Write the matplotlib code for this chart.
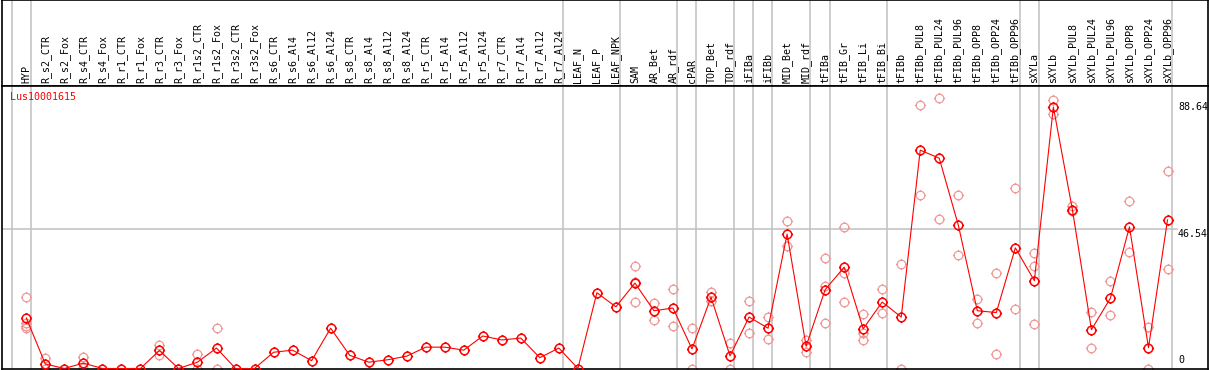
import matplotlib
matplotlib.use('Agg')
import matplotlib.pyplot as plt
from matplotlib.path import Path
from matplotlib.transforms import blended_transform_factory

# Sample names (column headers)
samples = ['HYP', 'R_s2_CTR', 'R_s2_Fox', 'R_s4_CTR', 'R_s4_Fox', 'R_r1_CTR', 'R_r1_Fox',
           'R_r3_CTR', 'R_r3_Fox', 'R_r1s2_CTR', 'R_r1s2_Fox', 'R_r3s2_CTR', 'R_r3s2_Fox',
           'R_s6_CTR', 'R_s6_Al4', 'R_s6_Al12', 'R_s6_Al24', 'R_s8_CTR', 'R_s8_Al4',
           'R_s8_Al12', 'R_s8_Al24', 'R_r5_CTR', 'R_r5_Al4', 'R_r5_Al12', 'R_r5_Al24',
           'R_r7_CTR', 'R_r7_Al4', 'R_r7_Al12', 'R_r7_Al24', 'LEAF_N', 'LEAF_P', 'LEAF_NPK',
           'SAM', 'AR_Bet', 'AR_rdf', 'cPAR', 'TOP_Bet', 'TOP_rdf', 'iFIBa', 'iFIBb',
           'MID_Bet', 'MID_rdf', 'tFIBa', 'tFIB_Gr', 'tFIB_Li', 'tFIB_Bi', 'tFIBb',
           'tFIBb_PUL8', 'tFIBb_PUL24', 'tFIBb_PUL96', 'tFIBb_OPP8', 'tFIBb_OPP24',
           'tFIBb_OPP96', 'sXYLa', 'sXYLb', 'sXYLb_PUL8', 'sXYLb_PUL24', 'sXYLb_PUL96',
           'sXYLb_OPP8', 'sXYLb_OPP24', 'sXYLb_OPP96']

# Mean expression per sample
means = [16.8, 1.5, 0, 1.8, 0, 0, 0, 6.0, 0, 2.1, 6.8, 0, 0,
         5.4, 6.1, 2.6, 13.4, 4.4, 2.1, 2.9, 4.1, 7.1, 7.1, 6.1, 10.8,
         9.5, 10.1, 3.6, 6.8, 0, 25.2, 20.5,
         28.4, 19.2, 20.1, 6.5, 23.7, 4.2, 17.1, 13.4,
         44.7, 7.4, 26.2, 33.7, 13.2, 22.1, 17.1,
         72.6, 69.9, 47.7, 19.2, 18.6, 40.1, 29.2, 86.9,
         52.8, 12.9, 23.4, 47.1, 6.9, 49.4]

# Individual replicate values per sample
replicates = [[23.7, 15.0, 14.2, 13.6], [3.5, 0], [], [3.8, 0.3], [], [], [],
              [7.8, 4.5], [], [4.7, 0], [13.6, 0], [], [],
              [], [], [], [], [], [], [], [], [], [], [], [],
              [], [], [], [], [], [], [],
              [34.1, 28.9, 22.1], [21.7, 16.2], [26.4, 14.1], [13.5, 0], [25.4, 22.6],
              [8.4, 0], [22.5, 11.8], [17.1, 9.9],
              [49.1, 40.6], [9.5, 5.4], [36.7, 27.3, 15.1], [47.1, 31.9, 22.2],
              [18.2, 11.8, 9.4], [26.4, 18.4], [34.8, 0],
              [87.7, 57.6], [89.9, 49.7], [57.6, 37.8], [23.1, 15.2], [31.8, 4.8],
              [60.1, 19.8], [38.4, 34.1, 14.8], [89.3, 84.7],
              [53.9, 52.2], [18.8, 6.8], [29.2, 17.9], [55.8, 38.7], [13.8, 0], [65.6, 33.1]]

# separators drawn after these sample indices
group_ends = [-1, 0, 28, 31, 34, 35, 37, 38, 39, 41, 42, 45, 52, 53, 60]
y_ticks = [88.64, 46.54]
gene = 'Lus10001615'

W, H = 1209, 370
fig = plt.figure(figsize=(W / 100, H / 100), dpi=100)
font = 'DejaVu Sans Mono'
fs = 7.2

# pixel geometry
left_px, right_px = 2, 1208
head_px = 85.7
bottom_px = 368.5
x0_px, dx_px = 26.3, 19.02
y_scale = 3.008

xlim = ((left_px - x0_px) / dx_px, (right_px - x0_px) / dx_px)
ylim = (0, (bottom_px - head_px) / y_scale)

head = fig.add_axes([left_px / W, 1 - head_px / H, (right_px - left_px) / W, head_px / H])
ax = fig.add_axes([left_px / W, (H - bottom_px) / H, (right_px - left_px) / W,
                   (bottom_px - head_px) / H])

for a in (head, ax):
    a.set_xlim(*xlim)
    a.set_xticks([])
    a.set_yticks([])
    for s in a.spines.values():
        s.set_color('black')
        s.set_linewidth(1.2)
    for g in group_ends:
        a.axvline(g + 0.23, color='#c0c0c0', linewidth=1.1, zorder=0)
ax.set_ylim(*ylim)

# column headers
for i, name in enumerate(samples):
    head.text(i, 0.03, name, rotation=90, ha='center', va='bottom',
              fontsize=fs, family=font, color='black')

# horizontal grid line and right labels
grid_right = (1177 - left_px) / (right_px - left_px)
ax.axhline(y_ticks[1], xmin=0, xmax=grid_right, color='#c0c0c0', linewidth=1.1, zorder=0)
lab_tr = blended_transform_factory(ax.transAxes, ax.transData)
lab_x = (1178 - left_px) / (right_px - left_px)
for v in y_ticks:
    ax.text(lab_x, v, f'{v:.2f}', transform=lab_tr, ha='left', va='top',
            fontsize=fs, family=font)
ax.text(lab_x, 1.2, '0', transform=lab_tr, ha='left', va='bottom', fontsize=fs, family=font)

ax.text(8 / (right_px - left_px), 1 - 11.5 / (bottom_px - head_px), gene,
        transform=ax.transAxes, ha='left', va='center', color='red',
        fontsize=fs, family=font)

# circle marker with small ticks
t = 1.3
tick_paths = [Path([[0, 1], [0, t]]), Path([[0, -1], [0, -t]]),
              Path([[1, 0], [t, 0]]), Path([[-1, 0], [-t, 0]])]
marker = Path.make_compound_path(Path.unit_circle(), *tick_paths)
msize = 8.0

rx, ry = [], []
for i, reps in enumerate(replicates):
    for v in reps:
        rx.append(i)
        ry.append(v)
ax.plot(rx, ry, linestyle='none', marker=marker, markersize=msize,
        markerfacecolor='none', markeredgecolor='#f09898', markeredgewidth=0.9,
        clip_on=False, zorder=2)

ax.plot(range(len(samples)), means, color='red', linewidth=0.8,
        marker=marker, markersize=msize, markerfacecolor='none',
        markeredgecolor='red', markeredgewidth=1.1, clip_on=False, zorder=3)

fig.savefig('out.png', dpi=100)
